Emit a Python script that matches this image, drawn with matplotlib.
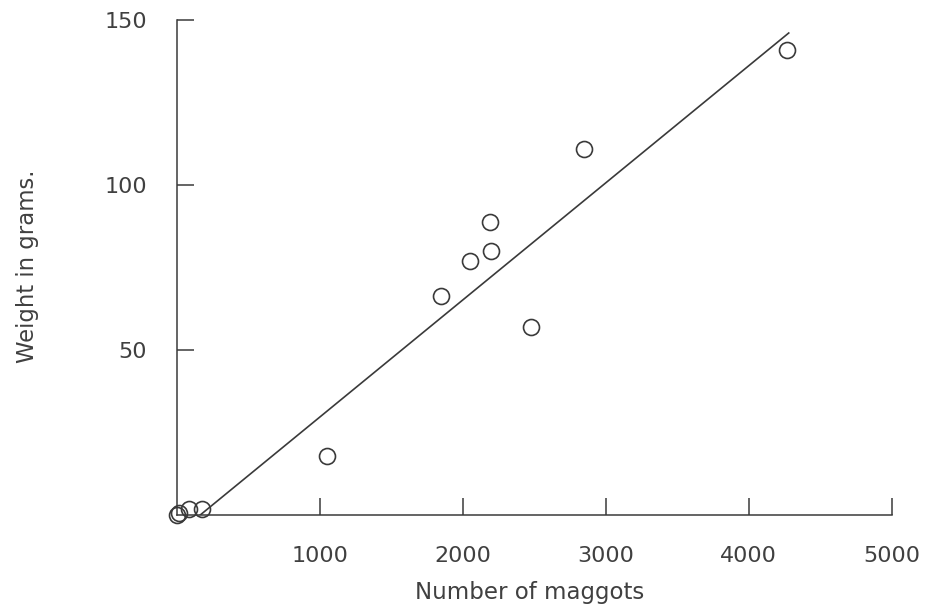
import matplotlib.pyplot as plt
import numpy as np

# maggot counts vs weight
maggots = [0, 15, 85, 180, 1050, 1850, 2050, 2190, 2200, 2480, 2850, 4270]
weight = [0, 0.5, 2, 2, 18, 66.5, 77, 89, 80, 57, 111, 141]

fit_x = [165, 4280]
fit_slope = 0.0355
fit_icept = -5.8

xticks = [1000, 2000, 3000, 4000, 5000]
yticks = [50, 100, 150]

plt.rcParams['font.family'] = ['DejaVu Sans']
ink = '#3a3a3a'
txt = '#404040'

fig = plt.figure(figsize=(9.25, 6.14), dpi=100)
ax = fig.add_axes([0.191, 0.161, 0.773, 0.806])

fx = np.array(fit_x)
ax.plot(fx, fit_slope * fx + fit_icept, color=ink, lw=1.2, zorder=2)
ax.plot(maggots, weight, 'o', ms=11.5, mfc='none', mec=ink, mew=1.2,
        clip_on=False, zorder=3)

ax.set_xlim(0, 5000)
ax.set_ylim(0, 150)
ax.set_xticks(xticks)
ax.set_yticks(yticks)
for s in ['top', 'right']:
    ax.spines[s].set_visible(False)
for s in ['left', 'bottom']:
    ax.spines[s].set_color(ink)
    ax.spines[s].set_linewidth(1.1)
ax.tick_params(direction='in', length=12, width=1.1, color=ink,
               labelsize=16, labelcolor=txt)
ax.tick_params(axis='y', pad=21.5)
ax.tick_params(axis='x', pad=22)

ax.set_xlabel('Number of maggots', fontsize=16.5, color=txt)
ax.set_ylabel('Weight in grams.', fontsize=16.4, color=txt)
ax.xaxis.set_label_coords(0.494, -0.133)
ax.yaxis.set_label_coords(-0.192, 0.503)

fig.savefig('out.png', dpi=100)
